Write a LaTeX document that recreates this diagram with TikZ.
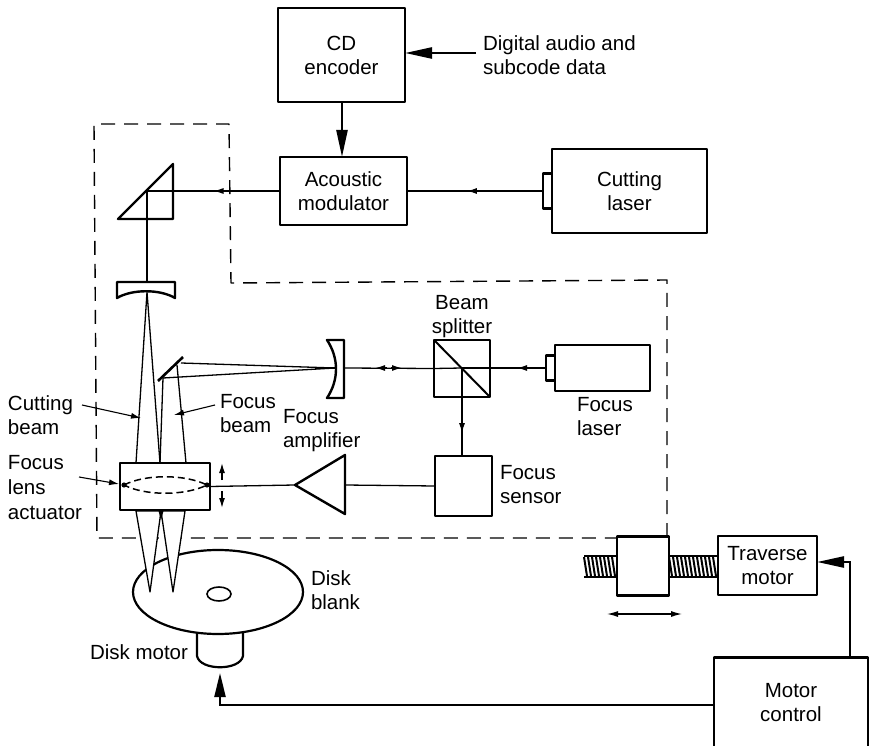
\documentclass[tikz,border=0pt]{standalone}
\usepackage{fontspec}
\setmainfont{Liberation Sans}
\usetikzlibrary{arrows.meta,decorations.markings}
\tikzset{
  x=1pt,y=-1pt,
  every node/.style={inner sep=0pt,outer sep=0pt,font=\fontsize{20.5}{24}\selectfont},
  blockbox/.style={draw,line width=2.6pt,line join=round,fill=white,align=center},
  lab/.style={align=left,anchor=west},
  beam/.style={line width=1.3pt},
  bighead/.style={-{Triangle[length=27pt,width=11pt]},line width=2.4pt,line join=miter},
  midhead/.style={postaction={decorate},decoration={markings,mark=at position #1 with {\arrow{Latex[length=10pt,width=6pt]}}}},
  minihead/.style={{Latex[length=11pt,width=6pt]}-{Latex[length=11pt,width=6pt]},line width=1.3pt},
  casing/.style={dash pattern=on 14pt off 9pt,line width=1.4pt,line join=round},
  optic/.style={draw,line width=2.4pt,line join=round,fill=white},
  cone/.style={draw,line width=1.3pt,line join=round,fill=white},
}
\begin{document}
\begin{tikzpicture}
\useasboundingbox (0,0) rectangle (876,746);

% dashed casing
\coordinate (c1) at (94,124);
\coordinate (c2) at (229,124);
\coordinate (c3) at (231,283);
\coordinate (c4) at (667,280);
\coordinate (c5) at (667,537);
\coordinate (c6) at (617,538);
\coordinate (c7) at (97,538);
\draw[casing] (c5) -- (c4) -- (c3) -- (c2) -- (c1) -- (c7) -- (c6);

% disk and motor
\draw[line width=2.2pt,fill=white] (197,630) -- (197,656) .. controls (200,671) and (240,671) .. (243,656) -- (243,630);
\draw[line width=2.2pt,fill=white] (218,592) ellipse [x radius=85,y radius=42];
\draw[line width=1.6pt] (219,594) ellipse [x radius=12,y radius=7];

% blocks
\node[blockbox,minimum width=127pt,minimum height=94pt] (cd) at (341.5,55) {CD\\encoder};
\node[blockbox,minimum width=127pt,minimum height=68pt] (am) at (343.5,191) {Acoustic\\modulator};
\node[blockbox,minimum width=155pt,minimum height=84pt] (cl) at (629.5,191) {Cutting\\laser};
\node[blockbox,minimum width=9pt,minimum height=35pt,anchor=east] (clb) at (cl.west) {};
\node[blockbox,minimum width=95pt,minimum height=46pt] (fl) at (602.5,368) {};
\node[blockbox,minimum width=9pt,minimum height=25pt,anchor=east] (flb) at (fl.west) {};
\node[blockbox,minimum width=56pt,minimum height=57pt] (bs) at (462,368.5) {};
\node[blockbox,minimum width=57pt,minimum height=60pt] (fs) at (463.5,486) {};
\node[blockbox,minimum width=90pt,minimum height=47pt] (act) at (165,486.5) {};
\node[blockbox,minimum width=99pt,minimum height=59pt] (tm) at (767.5,565.5) {Traverse\\motor};
\node[blockbox,minimum width=154pt,minimum height=91pt] (mc) at (791,703) {Motor\\control};

% screw
\foreach \xa/\xb in {584/617,669/718}{
  \draw[line width=1.8pt] (\xa,556) -- (\xb,556) (\xa,577) -- (\xb,577);
  \pgfmathsetmacro{\xl}{\xb-3}
  \foreach \sx in {\xa,\the\numexpr\xa+4\relax,...,\xl}
    \draw[line width=2pt] (\sx,557) -- (\sx+3,576);
}
\node[blockbox,minimum width=52pt,minimum height=59pt] (car) at (643,566) {};

% beam splitter diagonal
\draw[line width=2pt] (bs.north west) -- (bs.south east);

% triangle amplifier
\coordinate (a1) at (295,485);
\coordinate (a2) at (345,455);
\coordinate (a3) at (345,514);
\draw[optic] (a1) -- (a2) -- (a3) -- cycle;

% cutting path
\coordinate (pr) at (147,191);
\coordinate (ml) at (147,283);
\draw[optic] (118,219) -- (173,164) -- (173,219) -- cycle;
\draw[beam,midhead=0.56] (clb.west) -- (am.east);
\draw[beam,midhead=0.5] (am.west) -- (pr);
\draw[beam] (pr) -- (ml);

% upper lens
\draw[optic] (117,282) -- (175,282) -- (175,298) .. controls (160,289) and (132,289) .. (117,298) -- cycle;
\coordinate (t1) at (147,292);
\coordinate (act1) at (136,463);
\coordinate (act2) at (160,463);
\coordinate (act3) at (186,463);
\draw[beam] (act1) -- (t1) -- (act2);

% focus mirror and lens
\coordinate (m1) at (181,363);
\coordinate (m2) at (163,378);
\coordinate (f2) at (335,368);
\draw[beam] (m1) -- (f2) -- (m2);
\draw[beam] (m2) -- (act2);
\draw[beam] (177,365) -- (act3);
\draw[line width=2.6pt] (158,381) -- (183,357);
\draw[optic] (327,340) -- (344,340) -- (344,398) -- (327,398) .. controls (339,380) and (339,358) .. (327,340) -- cycle;
\draw[line width=2.2pt] (f2) -- (318,368);

% focus path
\coordinate (sp) at (462,368);
\draw[beam,midhead=0.345] (flb.west) -- (sp);
\draw[beam] (344,368) -- (bs.west);
\draw[beam] (bs.west) -- (sp);
\coordinate (h1) at (375,368);
\coordinate (h2) at (387,368);
\coordinate (h3) at (391,368);
\coordinate (h4) at (402,368);
\draw[beam,-{Latex[length=10pt,width=6pt]}] (h2) -- (h1);
\draw[beam,-{Latex[length=10pt,width=6pt]}] (h3) -- (h4);
\draw[beam,midhead=0.74] (sp) -- (fs.north-|sp);
\draw[beam] (fs.west) -- (345,485);
\draw[beam] (a1) -- (act.east);

% actuator lens and arrows
\coordinate (l1) at (124,485);
\coordinate (l2) at (207,485);
\draw[line width=1.5pt,dash pattern=on 7pt off 4pt] (l1) .. controls (145,474) and (185,474) .. (l2) .. controls (185,496) and (145,496) .. (l1);
\fill (l1) circle (2.6pt) (l2) circle (2.6pt);
\coordinate (ua) at (222,463);
\coordinate (ub) at (222,480);
\coordinate (da) at (222,491);
\coordinate (db) at (222,508);
\draw[beam,-{Latex[length=10pt,width=6pt]}] (ub) -- (ua);
\draw[beam,-{Latex[length=10pt,width=6pt]}] (da) -- (db);

% beams below the actuator
\draw[cone] (136,511) -- (150,592) -- (161,511) -- cycle;
\draw[cone] (161,511) -- (173,592) -- (185,511) -- cycle;
\fill (158.5,511) -- (161,520) -- (163.5,511) -- cycle;
\draw[line width=2.6pt] (act.south west) -- (act.south east);

% major arrows
\coordinate (din) at (476,53);
\draw[bighead] (din) -- (din-|cd.east);
\coordinate (cda) at (342,102);
\coordinate (cdb) at (342,157);
\draw[bighead] (cda) -- (cdb);
\coordinate (mcin) at (850,657);
\coordinate (mcc) at (850,562);
\draw[bighead] (mcin) -- (mcc) -- (tm.east|-mcc);
\coordinate (m3) at (220,705);
\coordinate (m4) at (220,673);
\draw[bighead,-{Triangle[length=24pt,width=11pt]}] (mc.west|-m3) -- (m3) -- (m4);
\coordinate (tra) at (607,614);
\coordinate (trb) at (682,614);
\draw[minihead] (tra) -- (trb);

% texts
\node[lab] (t01) at (483,55) {Digital audio and\\subcode data};
\node[align=center] (t02) at (462,317) {Beam\\splitter};
\node[lab] (t03) at (577,417) {Focus\\laser};
\node[lab] (t04) at (500,485) {Focus\\sensor};
\node[lab] (t05) at (283,431) {Focus\\amplifier};
\node[lab] (t06) at (220,414) {Focus\\beam};
\node[lab] (t07) at (8,415) {Cutting\\beam};
\node[lab] (t08) at (8,488) {Focus\\[1pt]lens\\[1pt]actuator};
\node[lab] (t09) at (311,590) {Disk\\blank};
\node[lab] (t10) at (90,652) {Disk motor};

% leaders
\coordinate (lc1) at (82,405);
\coordinate (lc2) at (141,418);
\draw[line width=1.1pt,-{Latex[length=10pt,width=6pt]}] (lc1) -- (lc2);
\coordinate (lf1) at (215,405);
\coordinate (lf2) at (174,415);
\draw[line width=1.1pt,-{Latex[length=10pt,width=6pt]}] (lf1) -- (lf2);
\coordinate (ll1) at (79,477);
\draw[line width=1.1pt,-{Latex[length=10pt,width=6pt]}] (ll1) -- (119,484);
\end{tikzpicture}
\end{document}
